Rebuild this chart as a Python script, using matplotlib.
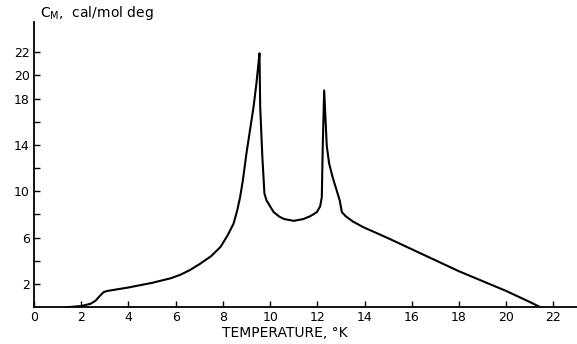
import matplotlib
matplotlib.use("Agg")
import matplotlib.pyplot as plt

# heat capacity curve
temp_k = [1.4, 2.0, 2.4, 2.6, 2.8, 2.95, 3.1, 3.4, 4.0, 5.0, 5.8, 6.2,
          6.6, 7.0, 7.5, 7.9, 8.2, 8.45, 8.6, 8.73, 8.85, 9.0, 9.15, 9.3,
          9.42, 9.52, 9.55, 9.58, 9.67, 9.76, 9.85, 10.0, 10.15, 10.4, 10.6,
          11.0, 11.4, 11.7, 11.98, 12.12, 12.19, 12.23, 12.29, 12.4, 12.5,
          12.65, 12.83, 12.95, 13.04, 13.2, 13.5, 13.95, 15.0, 16.0, 17.0,
          18.0, 19.0, 20.0, 21.0, 21.45]
cm = [0.0, 0.1, 0.3, 0.55, 1.0, 1.3, 1.4, 1.5, 1.7, 2.1, 2.5, 2.8,
      3.2, 3.7, 4.4, 5.2, 6.2, 7.2, 8.3, 9.5, 11.0, 13.3, 15.3, 17.3,
      19.3, 21.3, 21.9, 17.3, 13.0, 9.8, 9.2, 8.7, 8.2, 7.8, 7.6,
      7.45, 7.6, 7.85, 8.2, 8.7, 9.5, 13.9, 18.7, 13.9, 12.4,
      11.2, 10.0, 9.2, 8.2, 7.85, 7.4, 6.9, 5.95, 5.0, 4.05,
      3.1, 2.25, 1.4, 0.45, 0.0]

xticks = list(range(0, 23, 2))
yticks = list(range(2, 23, 2))
ytick_labels = ["2", "", "6", "", "10", "", "14", "", "18", "20", "22"]

fig = plt.figure(figsize=(5.77, 3.44), dpi=100)
ax = fig.add_axes([0.059, 0.107, 0.941, 0.829])

ax.plot(temp_k, cm, color="black", lw=1.5, solid_joinstyle="round")

ax.set_xlim(0, 23.0)
ax.set_ylim(0, 24.6)
ax.set_xticks(xticks)
ax.set_xticklabels([str(t) for t in xticks])
ax.set_yticks(yticks)
ax.set_yticklabels(ytick_labels)
ax.tick_params(direction="in", length=4, width=1.0, labelsize=9, pad=3)

for side in ("top", "right"):
    ax.spines[side].set_visible(False)
for side in ("left", "bottom"):
    ax.spines[side].set_linewidth(1.3)

fig.text(40 / 577, 1 - 17 / 344, r"C$_\mathrm{M}$,  cal/mol deg",
         fontsize=10, ha="left", va="baseline")
fig.text(222 / 577, 1 - 337 / 344, "TEMPERATURE, °K",
         fontsize=10, ha="left", va="baseline")

fig.savefig("out.png", dpi=100)
